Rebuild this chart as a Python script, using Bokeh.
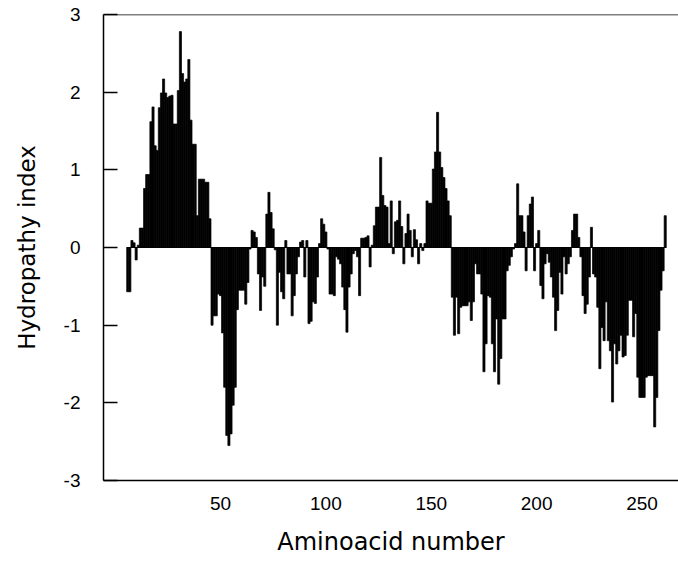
from bokeh.plotting import figure
from bokeh.models import Range1d, FixedTicker, Span
from bokeh.embed import file_html
from bokeh.resources import INLINE

# ---- data ----
first_residue = 6
hydropathy = [
    -0.57, -0.57, 0.09, 0.06, -0.16, 0.03, 0.25, 0.25, 0.76, 0.94,      # 6-15
    0.94, 1.62, 1.81, 1.31, 1.25, 1.80, 1.99, 2.17, 1.99, 1.93,         # 16-25
    1.95, 1.96, 1.59, 1.59, 2.02, 2.78, 2.24, 2.13, 2.17, 2.42,         # 26-35
    1.64, 1.33, 1.33, 0.41, 0.88, 0.88, 0.88, 0.84, 0.84, 0.37,         # 36-45
    -1.00, -0.88, -0.88, -0.60, -0.62, -1.10, -1.80, -2.42, -2.55, -2.40,  # 46-55
    -2.03, -1.80, -0.80, -0.55, -0.55, -0.55, -0.73, -0.45, -0.02, 0.22,   # 56-65
    0.20, 0.13, -0.34, -0.81, -0.38, -0.50, 0.43, 0.71, 0.45, 0.24,     # 66-75
    -0.03, -1.00, -0.32, -0.57, -0.66, 0.09, -0.34, -0.34, -0.88, -0.62,  # 76-85
    -0.34, -0.12, 0.07, 0.09, -0.38, 0.09, -0.98, -0.95, -0.70, -0.72,  # 86-95
    -0.38, 0.05, 0.37, 0.30, 0.20, -0.02, -0.60, -0.60, -0.62, -0.12,   # 96-105
    -0.15, -0.21, -0.51, -0.80, -1.09, -0.51, -0.34, -0.08, -0.04, -0.12,  # 106-115
    -0.62, 0.12, 0.12, 0.13, 0.15, -0.25, 0.03, 0.28, 0.52, 0.52,       # 116-125
    1.16, 0.67, 0.54, 0.52, 0.05, 0.60, -0.08, 0.33, 0.35, 0.60,        # 126-135
    0.27, -0.21, 0.18, 0.43, 0.22, -0.12, 0.23, 0.10, -0.21, 0.05,      # 136-145
    -0.04, 0.05, 0.60, 0.57, 0.57, 1.01, 1.23, 1.74, 1.23, 1.03,        # 146-155
    0.90, 0.76, 0.60, 0.41, -0.64, -1.13, -0.64, -1.11, -0.77, -0.75,   # 156-165
    -0.75, -0.75, -0.70, -0.94, -0.70, -0.21, -0.34, -0.34, -0.60, -1.60,  # 166-175
    -1.24, -0.62, -0.64, -1.24, -1.60, -0.92, -1.76, -1.43, -0.92, -0.92,  # 176-185
    -0.30, -0.23, -0.12, -0.02, 0.05, 0.82, 0.41, 0.41, 0.20, -0.30,    # 186-195
    0.41, 0.56, 0.65, -0.30, 0.05, 0.22, -0.49, -0.66, -0.21, -0.08,    # 196-205
    -0.19, -0.38, -0.64, -1.07, -0.81, -0.32, -0.60, -0.12, -0.34, -0.21,  # 206-215
    -0.12, 0.22, 0.43, 0.43, 0.13, -0.12, -0.62, -0.85, -0.73, -0.38,   # 216-225
    0.26, -0.34, -0.38, -0.77, -1.56, -1.03, -1.20, -0.70, -1.20, -1.33,  # 226-235
    -1.99, -1.24, -1.50, -1.33, -1.13, -1.41, -1.39, -1.13, -0.68, -0.68,  # 236-245
    -1.15, -0.85, -1.67, -1.93, -1.93, -1.93, -1.67, -1.65, -1.65, -1.65,  # 246-255
    -2.31, -1.93, -1.07, -0.55, -0.30, 0.41,                            # 256-261
]
residues = list(range(first_residue, first_residue + len(hydropathy)))

x_ticks = [50, 100, 150, 200, 250]
y_ticks = [-3, -2, -1, 0, 1, 2, 3]
x_title = "Aminoacid number"
y_title = "Hydropathy index"

# ---- figure ----
p = figure(
    width=678, height=560,
    output_backend="svg", toolbar_location=None,
    x_range=Range1d(-5.5, 267.3), y_range=Range1d(-3, 3),
    min_border_left=103, min_border_right=0,
    min_border_top=14, min_border_bottom=80,
)
p.outline_line_color = None
p.background_fill_color = "white"
p.border_fill_color = "white"
p.xgrid.visible = False
p.ygrid.visible = False

p.vbar(x=residues, top=hydropathy, bottom=0, width=1.0,
       fill_color="black", line_color="black", line_width=0.7)
p.line(x=[residues[0] - 0.5, residues[-1] + 0.5], y=[0, 0],
       line_color="black", line_width=1.2)

# top border line
p.add_layout(Span(location=y_ticks[-1], dimension="width",
                  line_color="black", line_width=1.5))

tick_font = "Liberation Sans"
title_font = "DejaVu Sans"

xa = p.xaxis[0]
xa.ticker = FixedTicker(ticks=x_ticks)
xa.major_tick_in = 0
xa.major_tick_out = 0
xa.minor_tick_line_color = None
xa.axis_line_color = "black"
xa.axis_line_width = 1.5
xa.major_label_text_font = tick_font
xa.major_label_text_font_size = "19px"
xa.major_label_text_color = "black"
xa.major_label_standoff = 16
xa.axis_label = x_title
xa.axis_label_text_font = title_font
xa.axis_label_text_font_size = "24px"
xa.axis_label_text_font_style = "normal"
xa.axis_label_text_color = "black"
xa.axis_label_standoff = 15

ya = p.yaxis[0]
ya.ticker = FixedTicker(ticks=y_ticks)
ya.major_label_overrides = {t: str(t) for t in y_ticks}
ya.major_tick_in = 14
ya.major_tick_out = 0
ya.major_tick_line_width = 1.5
ya.major_tick_line_color = "black"
ya.minor_tick_line_color = None
ya.axis_line_color = "black"
ya.axis_line_width = 1.5
ya.major_label_text_font = tick_font
ya.major_label_text_font_size = "19px"
ya.major_label_text_color = "black"
ya.major_label_standoff = 23
ya.axis_label = y_title
ya.axis_label_text_font = title_font
ya.axis_label_text_font_size = "23px"
ya.axis_label_text_font_style = "normal"
ya.axis_label_text_color = "black"
ya.axis_label_standoff = 21

open("out.html", "w").write(file_html(p, INLINE))
